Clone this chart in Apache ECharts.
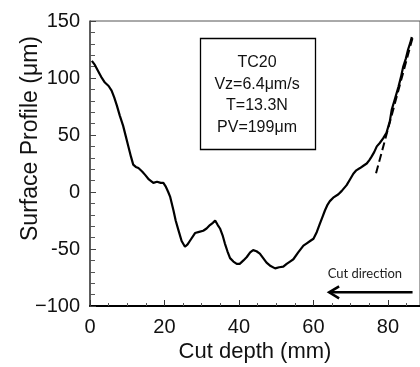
<!DOCTYPE html>
<html>
<head>
<meta charset="utf-8">
<script src="https://cdn.jsdelivr.net/npm/echarts@6/dist/echarts.min.js"></script>
<style>html,body{margin:0;padding:0;background:#fff;}#c{width:420px;height:367px;}</style>
</head>
<body>
<div id="c"></div>
<script>
// Cut depth (mm)
var depth = [0.5,1.2,2.2,3.0,4.0,5.0,5.8,6.5,7.2,8.0,8.9,9.6,10.3,11.0,11.6,12.3,13.0,14.0,14.8,15.8,17.0,18.0,19.0,19.7,20.3,21.0,21.5,22.4,23.0,23.7,24.6,25.5,26.2,26.8,28.2,29.3,30.4,31.3,32.2,33.0,33.6,34.3,34.9,35.6,36.2,36.9,37.6,38.5,39.4,40.2,41.2,42.1,43.0,43.8,44.7,45.6,46.5,47.4,48.5,49.7,50.8,51.9,52.8,53.7,54.6,55.9,57.3,58.2,59.1,60.0,60.9,61.7,62.4,63.1,63.8,64.4,65.3,66.7,67.6,68.9,69.8,70.7,71.5,72.5,73.4,74.3,75.0,75.6,76.3,77.0,77.8,78.7,79.6,80.5,81.0,81.9,82.8,83.5,84.1,84.8,85.4,86.0,86.4];
// Surface profile (µm)
var profile = [115,112,106,101,96,93,89,83,76,67,58,49,40,31,24,22,21,18,15,11,8,9,8,8,5,0,-4,-16,-25,-33,-43,-48,-46,-43,-36,-35,-34,-32,-29,-27,-25,-29,-32,-38,-45,-52,-58,-61,-63,-63,-60,-57,-53,-51,-52,-54,-58,-62,-65,-67,-66,-65.5,-63,-61,-59,-53,-47,-45,-43,-41,-35,-28,-22,-16,-11,-8,-5,-2,1,6,11,16,19,21,23,25,28,31,35,40,43,47,52,62,72,82,92,101,110,117,125,131,136];
// dashed fit line end points [depth, profile]
var fitLine = [[76.8,16.4],[86.8,137.7]];
// cut direction arrow [depth, profile]
var arrowLine = [[86.6,-88],[64.2,-88]];
var yTicks = [-100,-50,0,50,100,150];
var xTicks = [0,20,40,60,80];
var infoLines = ['TC20','Vz=6.4\u03bcm/s','T=13.3N','PV=199\u03bcm'];
var arrowText = 'Cut direction';

var FONT = "'Liberation Sans', Arial, sans-serif";
var chart = echarts.init(document.getElementById('c'), null, {renderer:'canvas'});
var data = depth.map(function(d,i){return [d, profile[i]];});

var option = {
  animation: false,
  grid: {left: 90, top: 21, right: 0, bottom: 61, containLabel: false, outerBoundsMode: 'none',
         show: true, borderColor: '#555', borderWidth: 1},
  xAxis: {
    type: 'value', min: 0, max: 88.6, interval: 20,
    name: 'Cut depth (mm)', nameLocation: 'middle', nameGap: 35, nameMoveOverlap: false,
    nameTextStyle: {fontFamily: FONT, fontSize: 22, color: '#111'},
    axisLine: {show: true, onZero: false, lineStyle: {color: '#000', width: 2}},
    axisTick: {show: true, inside: true, length: 6, lineStyle: {color: '#333'}},
    minorTick: {show: true, splitNumber: 4, length: 3, lineStyle: {color: '#555'}},
    axisLabel: {fontFamily: FONT, fontSize: 20, color: '#111', margin: 11, showMaxLabel: false, alignMinLabel: 'center',
      formatter: function(v){ return xTicks.indexOf(v) >= 0 ? String(v) : ''; }},
    splitLine: {show: false}
  },
  yAxis: {
    type: 'value', min: -100, max: 150, interval: 50,
    name: 'Surface Profile (\u03bcm)', nameLocation: 'middle', nameGap: 48, nameMoveOverlap: false,
    nameTextStyle: {fontFamily: FONT, fontSize: 23, color: '#111', padding: [0, 0, 0, 50]},
    axisLine: {show: true, onZero: false, lineStyle: {color: '#444', width: 1.5}},
    axisTick: {show: true, inside: true, length: 6, lineStyle: {color: '#444'}},
    minorTick: {show: true, splitNumber: 5, length: 5, lineStyle: {color: '#555'}},
    axisLabel: {fontFamily: FONT, fontSize: 20, color: '#111', margin: 10,
      formatter: function(v){ if (yTicks.indexOf(v) < 0) return ''; return v === -100 ? '\u2212100' : String(v); }},
    splitLine: {show: false}
  },
  series: [{
    type: 'line', data: data, showSymbol: false, symbol: 'none',
    lineStyle: {color: '#000', width: 2.2},
    markLine: {
      silent: true, symbol: ['none','none'], label: {show: false},
      lineStyle: {color: '#000', width: 2, type: [8,4]},
      data: [[{coord: fitLine[0]}, {coord: fitLine[1]}]]
    }
  }, {
    type: 'line', data: arrowLine, showSymbol: false, symbol: 'none',
    lineStyle: {color: '#000', width: 2.5}, silent: true
  }]
};
chart.setOption(option);

function px(p){ return chart.convertToPixel({gridIndex:0}, p); }
var a1 = px(arrowLine[1]);
var a0 = px(arrowLine[0]);
var graphics = [];
graphics.push({type:'rect', shape:{x:200.5, y:38.5, width:115, height:111}, style:{fill:'#fff', stroke:'#000', lineWidth:1.3}, z:10});
var ly = [63, 85, 106, 128];
infoLines.forEach(function(t,i){
  graphics.push({type:'text', x:257, y:ly[i], style:{text:t, font:"16px "+FONT, fill:'#111', textAlign:'center', textVerticalAlign:'middle'}, z:11});
});
graphics.push({type:'polyline', shape:{points:[[a1[0]+10, a1[1]-6],[a1[0], a1[1]],[a1[0]+10, a1[1]+6]]}, style:{stroke:'#000', lineWidth:2.5, fill:null}, z:11});
graphics.push({type:'text', x:(a0[0]+a1[0])/2 - 6, y:a1[1]-19, style:{text:arrowText, font:"13px Lato, 'Open Sans', sans-serif", fill:'#222', textAlign:'center', textVerticalAlign:'middle'}, z:11});
chart.setOption({graphic: graphics});
</script>
</body>
</html>
